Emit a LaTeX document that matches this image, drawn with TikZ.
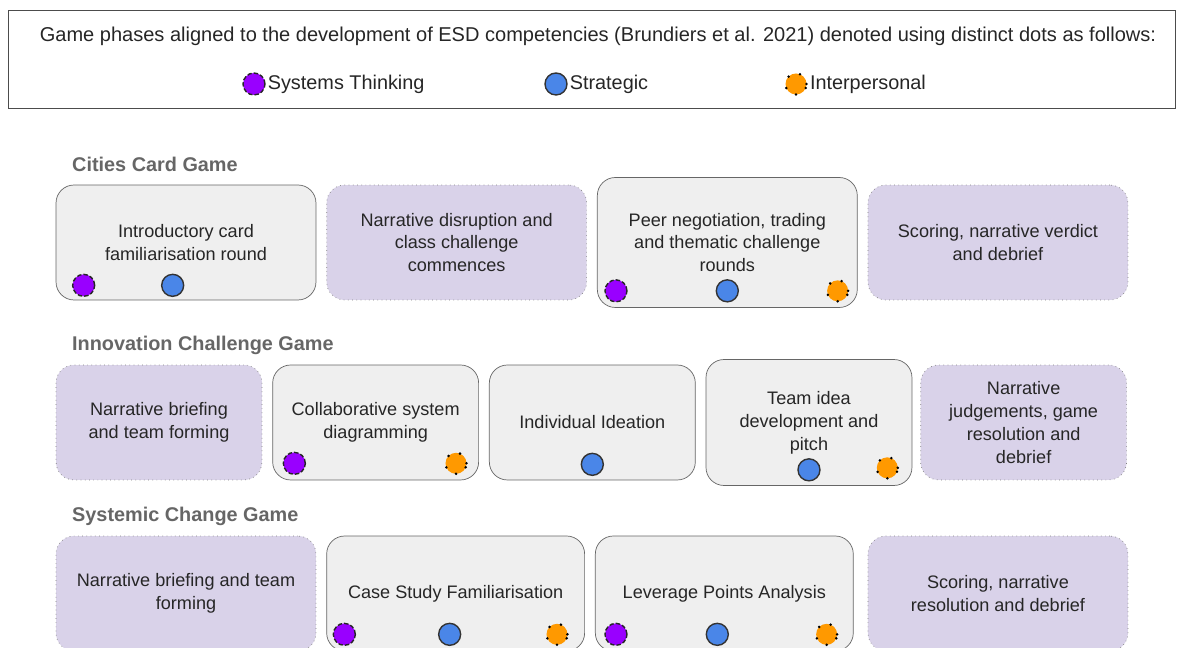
\documentclass[tikz,border=0pt]{standalone}
\usepackage{fontspec}
\setmainfont{Liberation Sans}
\usepackage{xcolor}
\usetikzlibrary{positioning}

\definecolor{cardgray}{HTML}{EFEFEF}
\definecolor{narrpurple}{HTML}{D9D2E9}
\definecolor{sysviolet}{HTML}{9900FF}
\definecolor{stratblue}{HTML}{4A86E8}
\definecolor{interorange}{HTML}{FF9900}
\definecolor{titlegray}{HTML}{666666}

\begin{document}
\begin{tikzpicture}[x=0.02cm,y=0.02cm]
		\tikzset{node distance=0.2cm,
			phase/.style={rectangle, rounded corners=0.36cm, draw=black!60, fill=cardgray,
			align=center, text=black!85, inner sep=0pt, font=\fontsize{10.3}{13}\selectfont},
			narr/.style={phase, draw=black!50, dotted, fill=narrpurple},
			wide/.style={minimum width=5.2cm, minimum height=2.3cm},
			narrow/.style={minimum width=4.12cm, minimum height=2.3cm},
			title/.style={anchor=west, text=titlegray, font=\fontsize{11.3}{13}\selectfont\bfseries},
			key/.style={inner sep=1pt, text=black!85, font=\fontsize{11.3}{13}\selectfont},
			sysdot/.style={circle, minimum size=0.44cm, inner sep=0pt, fill=sysviolet,
			draw=black!85, line width=0.8pt, dash pattern=on 2.5pt off 1.2pt},
			stratdot/.style={circle, minimum size=0.44cm, inner sep=0pt, fill=stratblue,
			draw=black!80, thick},
			interdot/.style={circle, minimum size=0.42cm, inner sep=0pt, fill=interorange,
			draw=black, line width=1.6pt, line cap=round, dash pattern=on 0pt off 7pt},
		}
		\useasboundingbox (0,0) rectangle (1183,648);
		\clip (0,0) rectangle (1183,648);

		% legend
		\node[draw=black!70, minimum width=23.34cm, minimum height=1.96cm, inner sep=0pt](legend) at (591.5,589){};
		\node[text=black!85, font=\fontsize{11.4}{13}\selectfont](intro) at (598,612){Game phases aligned to the development of ESD competencies (Brundiers et al. 2021) denoted using distinct dots as follows:};
		\node[sysdot](lsys) at (254,564){};
		\node[key, right=0pt of lsys]{Systems Thinking};
		\node[stratdot](lstrat) at (556,564){};
		\node[key, right=0pt of lstrat]{Strategic};
		\node[interdot](linter) at (796,564){};
		\node[key, right=0pt of linter]{Interpersonal};

		% Cities Card Game
		\node[title](cities) at (66,484){Cities Card Game};
		\node[phase, wide](c1) at (186,405.5){Introductory card\\familiarisation round};
		\node[narr, wide, right=of c1](c2){Narrative disruption and\\class challenge\\commences};
		\node[phase, wide, minimum height=2.6cm, right=of c2](c3){Peer negotiation, trading\\and thematic challenge\\rounds};
		\node[narr, wide, right=of c3](c4){Scoring, narrative verdict\\and debrief};

		\node[sysdot] at ([shift={(28,15)}]c1.south west){};
		\node[stratdot] at ([shift={(117,15)}]c1.south west){};
		\node[sysdot] at ([shift={(19,17)}]c3.south west){};
		\node[stratdot] at ([shift={(0,17)}]c3.south){};
		\node[interdot] at ([shift={(-20,17)}]c3.south east){};

		% Innovation Challenge Game
		\node[title](innov) at (66,303){Innovation Challenge Game};
		\node[narr, narrow](i1) at (159,225.5){Narrative briefing\\and team forming};
		\node[phase, narrow, right=of i1](i2){Collaborative system\\diagramming};
		\node[phase, narrow, right=of i2](i3){Individual Ideation};
		\node[phase, narrow, minimum height=2.52cm, right=of i3](i4){Team idea\\development and\\pitch};
		\node[narr, narrow, right=0.16cm of i4](i5){Narrative\\judgements, game\\resolution and\\debrief};

		\node[sysdot] at ([shift={(22,17)}]i2.south west){};
		\node[interdot] at ([shift={(-23,17)}]i2.south east){};
		\node[stratdot] at ([shift={(0,16)}]i3.south){};
		\node[stratdot] at ([shift={(0,16)}]i4.south){};
		\node[interdot] at ([shift={(-25,18)}]i4.south east){};

		% Systemic Change Game
		\node[title](systemic) at (66,132){Systemic Change Game};
		\node[narr, wide](s1) at (186,54.5){Narrative briefing and team\\forming};
		\node[phase, wide, minimum width=5.16cm, right=of s1](s2){Case Study Familiarisation};
		\node[phase, wide, minimum width=5.16cm, right=of s2](s3){Leverage Points Analysis};
		\node[narr, wide, right=0.28cm of s3](s4){Scoring, narrative\\resolution and debrief};

		\node[sysdot] at ([shift={(18,17)}]s2.south west){};
		\node[stratdot] at ([shift={(-6,17)}]s2.south){};
		\node[interdot] at ([shift={(-28,17)}]s2.south east){};
		\node[sysdot] at ([shift={(21,17)}]s3.south west){};
		\node[stratdot] at ([shift={(-7,17)}]s3.south){};
		\node[interdot] at ([shift={(-27,17)}]s3.south east){};

	\end{tikzpicture}
\end{document}
